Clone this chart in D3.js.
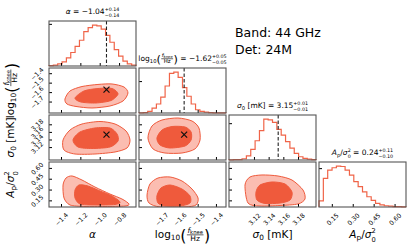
<!DOCTYPE html>
<html><head><meta charset="utf-8">
<script src="https://cdn.jsdelivr.net/npm/d3@7"></script>
<style>body{margin:0;background:#fff}svg{display:block}text{font-family:"DejaVu Sans",sans-serif;fill:#000;white-space:pre}</style>
</head><body><svg id="c" width="411" height="251"></svg>
<script>
// ---------- data ----------
const paramRanges = [[-1.524,-0.625],[-1.821,-1.345],[3.086,3.2045],[0.058,0.682]];
const tickValues = [[-1.4,-1.2,-1.0,-0.8],[-1.7,-1.6,-1.5,-1.4],[3.12,3.14,3.16,3.18],[0.15,0.30,0.45,0.60]];
const tickFormats = [".1f",".1f",".2f",".2f"];
const truths = [-0.93,-1.574,3.153,null];
const medians = ["−1.04","−1.62","3.15","0.24"];
const errPlus = ["+0.14","+0.05","+0.01","+0.11"];
const errMinus = ["−0.14","−0.05","−0.01","−0.10"];
const histAlpha = [1,2,5,10,20,33,48,63,84,94,100,98,90,75,58,40,24,12,5,2];
const histLogFknee = [0.5,1,4,12,22,39,66,97,100,87,62,41,22,8,4,2,1,0.5,0.3,0.2];
const histSigma0 = [0.5,1,1,3,10,26,47,72,100,98,92,75,61,45,29,16,8,4,2,1];
const histApSig = [15,70,90,96,100,99,90,78,62,50,37,25,16,9,5,3,2,1,1,0.5];
const histTickValue = [103,78,90,95];
// contours [x,y] in data units: outer (2 sigma), inner (1 sigma)
const cAlphaLogOuter = [[-1.359,-1.673],[-1.307,-1.588],[-1.183,-1.541],[-1.018,-1.519],[-0.873,-1.514],[-0.749,-1.546],[-0.708,-1.609],[-0.759,-1.694],[-0.894,-1.747],[-1.080,-1.768],[-1.245,-1.752],[-1.338,-1.726]];
const cAlphaLogInner = [[-1.255,-1.662],[-1.162,-1.588],[-1.018,-1.562],[-0.873,-1.562],[-0.811,-1.620],[-0.883,-1.689],[-1.038,-1.715],[-1.193,-1.705]];
const cAlphaSigOuter = [[-1.379,3.1387],[-1.307,3.165],[-1.183,3.1808],[-0.997,3.1874],[-0.842,3.1808],[-0.728,3.1624],[-0.687,3.1387],[-0.718,3.1176],[-0.842,3.1071],[-1.049,3.1018],[-1.255,3.1018],[-1.369,3.1123]];
const cAlphaSigInner = [[-1.276,3.1387],[-1.204,3.1597],[-1.049,3.1703],[-0.894,3.1703],[-0.821,3.1545],[-0.811,3.136],[-0.894,3.1202],[-1.080,3.1163],[-1.224,3.1202]];
const cAlphaApOuter = [[-1.379,0.363],[-1.348,0.460],[-1.286,0.488],[-1.183,0.432],[-1.049,0.335],[-0.894,0.238],[-0.770,0.169],[-0.697,0.100],[-0.739,0.072],[-0.945,0.065],[-1.152,0.065],[-1.307,0.086],[-1.369,0.183]];
const cAlphaApInner = [[-1.255,0.294],[-1.214,0.363],[-1.121,0.349],[-0.997,0.280],[-0.873,0.211],[-0.790,0.127],[-0.842,0.093],[-1.049,0.086],[-1.204,0.100],[-1.255,0.183]];
const cLogSigOuter = [[-1.772,3.1439],[-1.750,3.1755],[-1.695,3.1913],[-1.608,3.1966],[-1.531,3.1887],[-1.493,3.1703],[-1.487,3.1387],[-1.515,3.115],[-1.586,3.1044],[-1.679,3.1044],[-1.744,3.115]];
const cLogSigInner = [[-1.723,3.1439],[-1.695,3.165],[-1.640,3.1742],[-1.569,3.1729],[-1.536,3.1597],[-1.536,3.1387],[-1.569,3.1229],[-1.651,3.1176],[-1.706,3.1255]];
const cLogApOuter = [[-1.777,0.224],[-1.761,0.377],[-1.717,0.460],[-1.651,0.474],[-1.586,0.419],[-1.531,0.308],[-1.498,0.183],[-1.509,0.086],[-1.569,0.058],[-1.706,0.058],[-1.766,0.113]];
const cLogApInner = [[-1.723,0.211],[-1.701,0.321],[-1.651,0.363],[-1.586,0.308],[-1.542,0.211],[-1.542,0.113],[-1.597,0.072],[-1.679,0.072],[-1.717,0.113]];
const cSigApOuter = [[3.1078,0.363],[3.1146,0.474],[3.1309,0.502],[3.1527,0.488],[3.1718,0.432],[3.1868,0.294],[3.1895,0.169],[3.1800,0.100],[3.1555,0.079],[3.1282,0.072],[3.1119,0.113]];
const cSigApInner = [[3.1228,0.266],[3.1282,0.363],[3.1446,0.405],[3.1623,0.377],[3.1718,0.266],[3.1691,0.155],[3.1555,0.113],[3.1350,0.107],[3.1241,0.155]];
const bandText = "Band: 44 GHz";
const detText = "Det: 24M";

// ---------- layout ----------
const colX = [49,139,229,319], rowY = [21,68,115,162], PW = 87, PH = 45;
const RED = "#ef5a3c", PINK = "#fbbdb1", HISTC = "#f06448";
const svg = d3.select("#c");
const hists = [histAlpha,histLogFknee,histSigma0,histApSig];
const contours = {"1,0":[cAlphaLogOuter,cAlphaLogInner],"2,0":[cAlphaSigOuter,cAlphaSigInner],"3,0":[cAlphaApOuter,cAlphaApInner],
  "2,1":[cLogSigOuter,cLogSigInner],"3,1":[cLogApOuter,cLogApInner],"3,2":[cSigApOuter,cSigApInner]};

function rich(g, segs, fs){
  let x = 0;
  segs.forEach(s=>{
    if(s.stack){
      const a=g.append("text").attr("x",x).attr("y",-fs*0.45).attr("font-size",fs*0.64).text(s.stack[0]);
      const b=g.append("text").attr("x",x).attr("y",fs*0.34).attr("font-size",fs*0.64).text(s.stack[1]);
      x += Math.max(a.node().getComputedTextLength(), b.node().getComputedTextLength());
    } else if(s.frac){
      const gn=g.append("g"), gd=g.append("g");
      const f2=fs*0.72;
      const wn=rich(gn,s.frac[0],f2), wd=rich(gd,s.frac[1],f2);
      const w=Math.max(wn,wd)+fs*0.2;
      const bar=-fs*0.3;
      gn.attr("transform",`translate(${x+(w-wn)/2},${bar-fs*0.22})`);
      gd.attr("transform",`translate(${x+(w-wd)/2},${bar+f2*0.78})`);
      g.append("line").attr("x1",x+fs*0.05).attr("x2",x+w-fs*0.05).attr("y1",bar).attr("y2",bar).attr("stroke","#000").attr("stroke-width",Math.max(0.6,fs*0.06));
      x+=w;
    } else if(s.paren){
      const t=g.append("text").attr("x",x).attr("y",fs*0.32).attr("font-size",fs*1.5).text(s.paren);
      x+=t.node().getComputedTextLength();
    } else {
      const small = s.pos==="sub"||s.pos==="sup";
      const t=g.append("text").attr("x",x).attr("y",s.pos==="sub"?fs*0.22:s.pos==="sup"?-fs*0.4:0)
        .attr("font-size",small?fs*0.7:fs).attr("font-style",s.i?"italic":null).text(s.t);
      x+=t.node().getComputedTextLength();
    }
  });
  return x;
}
function placeCentered(segs, fs, cx, cy, rot){
  const outer=svg.append("g").attr("transform",`translate(${cx},${cy})${rot?` rotate(${rot})`:""}`);
  const inner=outer.append("g");
  const w=rich(inner,segs,fs);
  inner.attr("transform",`translate(${-w/2},0)`);
}
const logLabel = [{t:"log"},{t:"10",pos:"sub"},{paren:"("},{frac:[[{t:"f",i:1},{t:"knee",pos:"sub"}],[{t:"Hz"}]]},{paren:")"}];
const names = [
  [{t:"α",i:1}],
  logLabel,
  [{t:"σ",i:1},{t:"0",pos:"sub"},{t:" [mK]"}],
  [{t:"A",i:1},{t:"p",pos:"sub"},{t:"/"},{t:"σ",i:1},{stack:["2","0"]}]
];

const xs = paramRanges.map((r,j)=>d3.scaleLinear().domain(r).range([colX[j],colX[j]+PW]));
const ysRow = paramRanges.map((r,i)=>d3.scaleLinear().domain(r).range([rowY[i]+PH,rowY[i]]));

for(let i=0;i<4;i++){
  for(let j=0;j<=i;j++){
    const g=svg.append("g");
    const x=xs[j];
    if(i===j){
      const h=hists[i];
      const y=d3.scaleLinear().domain([0,d3.max(h)*1.1]).range([rowY[i]+PH,rowY[i]]);
      const [a,b]=paramRanges[i], bw=(b-a)/h.length;
      const pts=[[a,0]];
      h.forEach((v,k)=>{pts.push([a+k*bw,v]);pts.push([a+(k+1)*bw,v]);});
      pts.push([b,0]);
      g.append("path").attr("d",d3.line().x(d=>x(d[0])).y(d=>y(d[1]))(pts))
        .attr("fill","none").attr("stroke",HISTC).attr("stroke-width",1.2);
      if(truths[i]!==null){
        g.append("line").attr("x1",x(truths[i])).attr("x2",x(truths[i])).attr("y1",rowY[i]).attr("y2",rowY[i]+PH)
          .attr("stroke","#222").attr("stroke-width",1.1).attr("stroke-dasharray","3.5,2");
      }
      const ay=g.append("g").attr("transform",`translate(${colX[j]},0)`)
        .call(d3.axisLeft(y).tickValues([histTickValue[i]]).tickSizeInner(-3).tickSizeOuter(0).tickFormat(""));
      ay.select(".domain").remove();
      placeCentered([...names[i],{t:" = "+medians[i]},{stack:[errPlus[i],errMinus[i]]}],7.5,colX[j]+PW/2,rowY[i]-7);
    } else {
      const y=ysRow[i];
      const [outer,inner]=contours[`${i},${j}`];
      const line=d3.line().x(d=>x(d[0])).y(d=>y(d[1])).curve(d3.curveCardinalClosed.tension(0.2));
      const clip="clip"+i+j;
      svg.append("clipPath").attr("id",clip).append("rect").attr("x",colX[j]).attr("y",rowY[i]).attr("width",PW).attr("height",PH);
      const cg=g.append("g").attr("clip-path",`url(#${clip})`);
      cg.append("path").attr("d",line(outer)).attr("fill",PINK).attr("stroke",RED).attr("stroke-width",1);
      cg.append("path").attr("d",line(inner)).attr("fill",RED).attr("stroke",RED).attr("stroke-width",1);
      if(truths[i]!==null&&truths[j]!==null){
        g.append("path").attr("transform",`translate(${x(truths[j])},${y(truths[i])})`)
          .attr("d","M-3,-3L3,3M-3,3L3,-3").attr("stroke","#111").attr("stroke-width",1.2);
      }
      const ay=g.append("g").attr("transform",`translate(${colX[j]},0)`)
        .call(d3.axisLeft(y).tickValues(tickValues[i]).tickSizeInner(-3).tickSizeOuter(0).tickFormat(d3.format(tickFormats[i])));
      ay.select(".domain").remove();
      ay.selectAll("line").attr("stroke","#000");
      if(j===0){
        ay.selectAll("text").attr("x",0).attr("dy",null).attr("font-size",6.3).attr("font-family","DejaVu Sans")
          .attr("text-anchor","middle").attr("dominant-baseline","central").attr("transform","translate(-12,0) rotate(-45)");
      } else ay.selectAll("text").remove();
    }
    const ax=g.append("g").attr("transform",`translate(0,${rowY[i]+PH})`)
      .call(d3.axisBottom(x).tickValues(tickValues[j]).tickSizeInner(-3).tickSizeOuter(0).tickFormat(d3.format(tickFormats[j])));
    ax.select(".domain").remove();
    if(i===3){
      ax.selectAll("text").attr("y",0).attr("dy",null).attr("font-size",6.3).attr("font-family","DejaVu Sans")
        .attr("text-anchor","middle").attr("dominant-baseline","central").attr("transform","translate(0,12) rotate(-45)");
    } else ax.selectAll("text").remove();
    g.append("rect").attr("x",colX[j]).attr("y",rowY[i]).attr("width",PW).attr("height",PH)
      .attr("fill","none").attr("stroke","#555").attr("stroke-width",1.1);
  }
}
for(let j=0;j<4;j++) placeCentered(names[j],10.5,colX[j]+PW/2,238);
for(let i=1;i<4;i++) placeCentered(names[i],10.5,14,rowY[i]+PH/2,-90);
svg.append("text").attr("x",235).attr("y",37).attr("font-size",12.5).text(bandText);
svg.append("text").attr("x",235).attr("y",54).attr("font-size",12.5).text(detText);
</script></body></html>
